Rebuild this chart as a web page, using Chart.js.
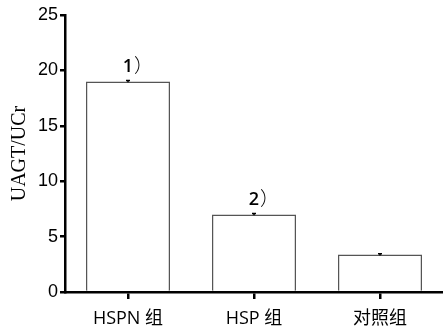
<!DOCTYPE html>
<html>
<head>
<meta charset="utf-8">
<script src="https://cdn.jsdelivr.net/npm/chart.js@4/dist/chart.umd.min.js"></script>
<style>
  html, body { margin: 0; padding: 0; background: #fff; }
  #wrap { width: 443px; height: 334px; }
</style>
</head>
<body>
<div id="wrap"><canvas id="chart" width="443" height="334"></canvas></div>
<script>
// data
const groups = ["HSPN 组", "HSP 组", "对照组"];
const ratio = [19.0, 7.0, 3.38];
const errs = [0.08, 0.08, 0.08];
const marks = ["1", "2", ""];
const yTicks = [0, 5, 10, 15, 20, 25];

const latin = "'Liberation Sans', Arial, 'Noto Sans CJK SC', sans-serif";

// small error caps + the 1) 2) notes over the bars
const barNotes = {
  id: "barNotes",
  afterDatasetsDraw(chart) {
    const ctx = chart.ctx;
    const meta = chart.getDatasetMeta(0);
    const y = chart.scales.y;
    ctx.save();
    meta.data.forEach((bar, i) => {
      const top = y.getPixelForValue(ratio[i] + errs[i]);
      const bot = y.getPixelForValue(ratio[i] - errs[i]);
      ctx.strokeStyle = "#000";
      ctx.lineWidth = 1.5;
      ctx.beginPath();
      ctx.moveTo(bar.x, top); ctx.lineTo(bar.x, bot);
      ctx.moveTo(bar.x - 2, top); ctx.lineTo(bar.x + 2, top);
      ctx.stroke();
      if (marks[i]) {
        ctx.fillStyle = "#000";
        ctx.textBaseline = "alphabetic";
        ctx.textAlign = "center";
        ctx.font = "600 18px 'Open Sans', 'Liberation Sans', sans-serif";
        ctx.fillText(marks[i], bar.x, bar.y - 9);
        ctx.font = "300 19px 'Noto Sans CJK SC', sans-serif";
        ctx.textAlign = "left";
        ctx.fillText("）", bar.x + 6, bar.y - 8);
      }
    });
    ctx.restore();
  }
};

new Chart(document.getElementById("chart"), {
  type: "bar",
  data: {
    labels: groups,
    datasets: [{
      data: ratio,
      backgroundColor: "#fff",
      borderColor: "#555",
      borderWidth: 1.5,
      borderSkipped: "bottom",
      categoryPercentage: 1,
      barPercentage: 0.667
    }]
  },
  options: {
    responsive: false,
    animation: false,
    layout: { padding: { top: 15, right: 0, left: 0, bottom: 0 } },
    plugins: { legend: { display: false }, tooltip: { enabled: false } },
    scales: {
      x: {
        offset: true,
        grid: { offset: false, drawOnChartArea: false, color: "#000", lineWidth: 2.5, tickLength: 7 },
        border: { color: "#000", width: 2.5 },
        ticks: { color: "#000", font: { size: 18, family: "'Open Sans', 'Noto Sans CJK SC', sans-serif" }, padding: 9 },
        afterFit(s) { s.height = 42; }
      },
      y: {
        min: 0, max: 25,
        afterBuildTicks(s) { s.ticks = yTicks.map(v => ({ value: v })); },
        grid: { drawOnChartArea: false, color: "#000", lineWidth: 2.5, tickLength: 5 },
        border: { color: "#000", width: 2.5 },
        ticks: { color: "#000", font: { size: 18, family: latin }, padding: 2 },
        title: {
          display: true,
          text: "UAGT/UCr",
          color: "#000",
          font: { size: 20, family: "'Liberation Serif', 'Times New Roman', serif" },
          padding: { top: 8, bottom: 0 }
        },
        afterFit(s) { s.width = 65; }
      }
    }
  },
  plugins: [barNotes]
});
</script>
</body>
</html>
